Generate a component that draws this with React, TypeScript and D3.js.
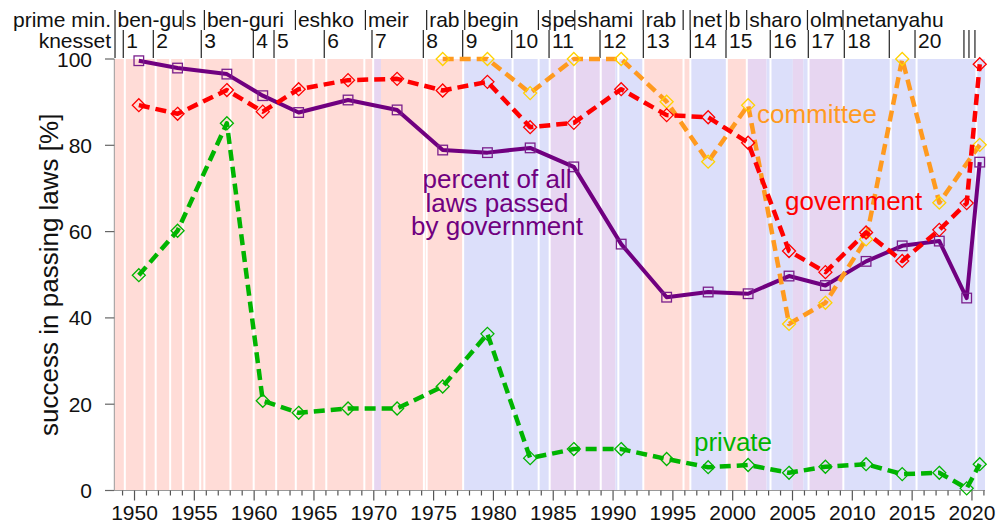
import React from "react";
import * as d3 from "d3";

// ---- data ----
const pointYears = [1950.36, 1953.6, 1957.72, 1960.72, 1963.72, 1967.85, 1971.95, 1975.76, 1979.5, 1983.07, 1986.72, 1990.68, 1994.48, 1997.95, 2001.29, 2004.71, 2007.75, 2011.15, 2014.17, 2017.27, 2019.56, 2020.05, 2020.65];
const govShare = [99.6, 97.9, 96.5, 91.5, 87.6, 90.5, 88.2, 78.9, 78.3, 79.4, 75.0, 57.1, 44.8, 46.0, 45.6, 49.7, 47.5, 53.1, 56.7, 57.8, 44.6, null, 76.1];
const government = [89.3, 87.3, 92.8, 87.8, 93.0, 95.1, 95.4, 92.7, 94.7, 84.2, 85.2, 93.0, 87.0, 86.5, 80.6, 55.5, 50.6, 59.8, 53.2, 60.4, 66.6, null, 98.8];
const committee = [null, null, null, null, null, null, null, 100, 100, 92.1, 100, 100, 90.1, 76.2, 89.3, 38.6, 43.5, 58.2, 100, 66.7, null, null, 80.1];
const privateBills = [49.9, 60.2, 85.1, 20.8, 18.0, 19.0, 19.0, 24.1, 36.3, 7.5, 9.6, 9.6, 7.3, 5.4, 5.9, 4.1, 5.5, 6.1, 3.8, 4.1, 0.5, null, 6.1];

const knessetStarts = [1948.37, 1949.06, 1951.57, 1955.58, 1959.93, 1961.66, 1965.86, 1969.85, 1974.14, 1977.43, 1981.53, 1984.65, 1988.91, 1992.53, 1996.46, 1999.44, 2003.14, 2006.32, 2009.33, 2013.09, 2015.24, 2019.33, 2019.75, 2020.25];
const knessetLabels = ["", "1", "2", "3", "4", "5", "6", "7", "8", "9", "10", "11", "12", "13", "14", "15", "16", "17", "18", "", "20", "", "", ""];

const pmStarts = [1948.37, 1954.07, 1955.84, 1963.45, 1969.3, 1974.42, 1977.6, 1983.76, 1984.72, 1986.8, 1992.52, 1995.86, 1996.44, 1999.47, 2001.17, 2006.25, 2009.22];
const pmLabels = ["ben-gu", "s", "ben-guri", "eshko", "meir", "rab", "begin", "s", "pe", "shami", "rab", "", "net", "b", "sharo", "olm", "netanyahu"];

const govChanges = [1949.19, 1950.83, 1951.77, 1952.98, 1954.07, 1955.49, 1955.84, 1958.02, 1959.96, 1961.84, 1963.48, 1964.97, 1966.03, 1969.21, 1969.95, 1974.19, 1974.42, 1977.47, 1981.6, 1983.78, 1984.7, 1986.8, 1988.97, 1990.44, 1992.53, 1995.89, 1996.46, 1999.51, 2001.18, 2003.16, 2006.34, 2009.25, 2013.21, 2015.37, 2020.37];

const bandStarts = [1948.31, 1969.95, 1970.6, 1977.47, 1984.7, 1990.2, 1992.53, 1996.46, 1999.51, 2001.18, 2002.83, 2005.03, 2005.9, 2006.34, 2009.25];
const bandTypes = ["left", "unity", "left", "right", "unity", "right", "left", "right", "left", "unity", "right", "unity", "right", "unity", "right"];

const yTicks = [0, 20, 40, 60, 80, 100];
const xMajorTicks = [1950, 1955, 1960, 1965, 1970, 1975, 1980, 1985, 1990, 1995, 2000, 2005, 2010, 2015, 2020];

const X0 = 1948.31, X1 = 2021.09;

const bandColor: Record<string, string> = { left: "#ffdcd7", right: "#dcdffa", unity: "#e7d6f1" };
const FONT = "'Liberation Sans', Arial, sans-serif";

export default function App() {
  const x = d3.scaleLinear().domain([X0, X1]).range([114.3, 985]);
  const y = d3.scaleLinear().domain([0, 100]).range([490.5, 59]);

  const mk = (vals: (number | null)[]) =>
    pointYears.map((yr, i) => [yr, vals[i]] as [number, number | null]).filter((d) => d[1] !== null) as [number, number][];

  const line = d3.line<[number, number]>().x((d) => x(d[0])).y((d) => y(d[1]));

  const diamond = (cx: number, cy: number, r: number) => `M${cx},${cy - r}L${cx + r},${cy}L${cx},${cy + r}L${cx - r},${cy}Z`;

  const minorYears = d3.range(1949, 2022);

  const series = [
    { vals: govShare, color: "#700080", dash: null, marker: "square", mcolor: "#7a1f8c", width: 4 },
    { vals: privateBills, color: "#00b400", dash: "11,6", marker: "diamond", mcolor: "#00b400", width: 4.5 },
    { vals: committee, color: "#ff9a1f", dash: "11,6", marker: "diamond", mcolor: "#ffd200", width: 4.5 },
    { vals: government, color: "#ff0000", dash: "11,6", marker: "diamond", mcolor: "#ff0000", width: 4.5 },
  ];

  return (
    <div style={{ position: "absolute", left: 0, top: 0 }}>
      <svg width={998} height={524} style={{ display: "block", background: "#fff" }} fontFamily={FONT}>
        {/* bands */}
        {bandStarts.map((s, i) => {
          const e = i + 1 < bandStarts.length ? bandStarts[i + 1] : X1;
          return <rect key={"b" + i} x={x(s)} y={y(100)} width={x(e) - x(s)} height={y(0) - y(100)} fill={bandColor[bandTypes[i]]} />;
        })}
        {govChanges.map((g, i) => (
          <line key={"g" + i} x1={x(g)} x2={x(g)} y1={y(100)} y2={y(0)} stroke="#fff" strokeWidth={2} />
        ))}

        {/* axes */}
        <line x1={114.3} x2={114.3} y1={y(100)} y2={y(0)} stroke="#999" strokeWidth={1} />
        <line x1={114.3} x2={985} y1={y(0)} y2={y(0)} stroke="#999" strokeWidth={1} />
        {yTicks.map((t) => (
          <g key={"yt" + t}>
            <line x1={105} x2={114.3} y1={y(t)} y2={y(t)} stroke="#666" strokeWidth={1.2} />
            <text x={92} y={y(t) + 7.5} textAnchor="end" fontSize={21} fill="#111">{t}</text>
          </g>
        ))}
        {minorYears.map((yr) => (
          <line key={"xm" + yr} x1={x(yr)} x2={x(yr)} y1={y(0)} y2={y(0) + (yr % 5 === 0 ? 10 : 5)} stroke="#555" strokeWidth={1.2} />
        ))}
        {xMajorTicks.map((t) => (
          <text key={"xt" + t} x={x(t)} y={520} textAnchor="middle" fontSize={21} fill="#111">{t}</text>
        ))}
        <text transform={`translate(58.3,${(y(0) + y(100)) / 2}) rotate(-90)`} textAnchor="middle" fontSize={26} fill="#111">
          success in passing laws [%]
        </text>

        {/* header */}
        <text x={111} y={26.5} textAnchor="end" fontSize={21} fill="#111">prime min.</text>
        <text x={111} y={48} textAnchor="end" fontSize={21} fill="#111">knesset</text>
        {pmStarts.map((s, i) => (
          <g key={"pm" + i}>
            <line x1={x(s)} x2={x(s)} y1={10} y2={30} stroke="#222" strokeWidth={1.2} />
            <text x={x(s) + 2.5} y={26.5} fontSize={21} fill="#111">{pmLabels[i]}</text>
          </g>
        ))}
        {knessetStarts.map((s, i) => (
          <g key={"kn" + i}>
            <line x1={x(s)} x2={x(s)} y1={30} y2={58} stroke="#222" strokeWidth={1.2} />
            <text x={x(s) + 3} y={48} fontSize={21} fill="#111">{knessetLabels[i]}</text>
          </g>
        ))}

        {/* series */}
        {series.map((s, si) => {
          const pts = mk(s.vals);
          return (
            <g key={"s" + si}>
              <path d={line(pts) || ""} fill="none" stroke={s.color} strokeWidth={s.width} strokeDasharray={s.dash || undefined} strokeLinejoin="round" />
              {pts.map((p, pi) =>
                s.marker === "square" ? (
                  <rect key={pi} x={x(p[0]) - 4.8} y={y(p[1]) - 4.8} width={9.6} height={9.6} fill="none" stroke={s.mcolor} strokeWidth={1.3} />
                ) : (
                  <path key={pi} d={diamond(x(p[0]), y(p[1]), 6.5)} fill="none" stroke={s.mcolor} strokeWidth={1.3} />
                )
              )}
            </g>
          );
        })}

        {/* labels */}
        <text x={757} y={123} fontSize={26} fill="#ff9a1f">committee</text>
        <text x={785} y={210} fontSize={26} fill="#ff0000">government</text>
        <text x={694} y={451} fontSize={26} fill="#00b400">private</text>
        <text x={497} y={188} textAnchor="middle" fontSize={26} fill="#700080">percent of all</text>
        <text x={497} y={211.5} textAnchor="middle" fontSize={26} fill="#700080">laws passed</text>
        <text x={497} y={235} textAnchor="middle" fontSize={26} fill="#700080">by government</text>
      </svg>
    </div>
  );
}
